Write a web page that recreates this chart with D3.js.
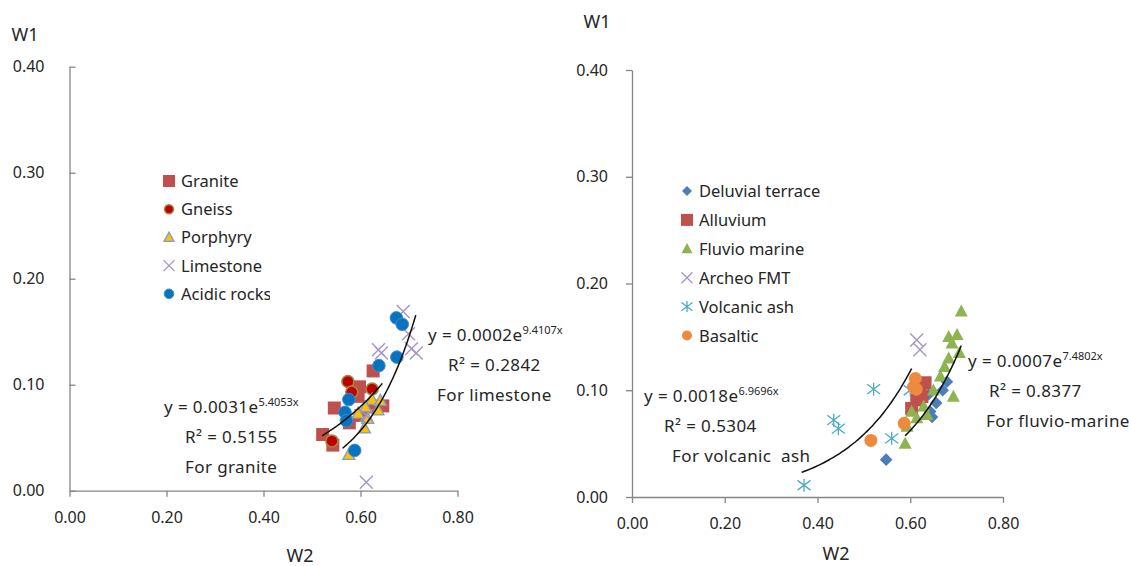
<!DOCTYPE html>
<html>
<head>
<meta charset="utf-8">
<script src="https://cdn.jsdelivr.net/npm/d3@7"></script>
<style>
    body { margin: 0; background: #fff; }
    svg { display: block; font-family: "Noto Sans", "DejaVu Sans", sans-serif; }
    .axis path, .axis line { stroke: #868686; stroke-width: 1.3px; }
    .axis text { font-size: 16px; fill: #262626; font-family: "Noto Sans", sans-serif; }
    .axis-title { font-size: 18px; fill: #262626; }
    .legend-text { font-size: 16.5px; fill: #262626; }
    .fit-text { font-size: 17px; letter-spacing: 0.4px; fill: #262626; white-space: pre; }
    .fit-line { fill: none; stroke: #111; stroke-width: 1.5px; }
</style>
</head>
<body>
<svg id="chart" width="1129" height="566"></svg>
<script>
// tick values (shared by both panels)
const xTicks = [0, 0.2, 0.4, 0.6, 0.8];
const yTicks = [0, 0.1, 0.2, 0.3, 0.4];

// left panel: parent rocks  [W2, W1]
const granite = [[0.626,0.113],[0.598,0.098],[0.546,0.078],[0.646,0.080],[0.577,0.064],
    [0.522,0.053],[0.543,0.043],[0.619,0.079],[0.601,0.071],[0.595,0.089]];
const gneiss = [[0.574,0.103],[0.582,0.093],[0.624,0.096],[0.541,0.047]];
const porphyry = [[0.624,0.086],[0.641,0.085],[0.610,0.079],[0.636,0.076],[0.595,0.073],
    [0.615,0.068],[0.608,0.059],[0.576,0.034]];
const limestone = [[0.688,0.169],[0.699,0.148],[0.715,0.130],[0.705,0.134],[0.637,0.133],
    [0.643,0.130],[0.612,0.008],[0.612,0.071]];
const acidic = [[0.674,0.163],[0.686,0.157],[0.675,0.126],[0.638,0.118],[0.576,0.086],
    [0.568,0.074],[0.571,0.066],[0.588,0.038]];

// right panel: deposits  [W2, W1]
const deluvial = [[0.548,0.035],[0.656,0.088],[0.679,0.108],[0.643,0.080],[0.639,0.096],
    [0.670,0.100],[0.647,0.075]];
const alluvium = [[0.632,0.107],[0.614,0.091],[0.603,0.083],[0.625,0.094],[0.621,0.100]];
const fluvio = [[0.710,0.174],[0.683,0.150],[0.701,0.152],[0.690,0.144],[0.706,0.135],
    [0.683,0.130],[0.674,0.122],[0.665,0.113],[0.693,0.094],[0.650,0.100],[0.629,0.085],
    [0.603,0.080],[0.636,0.077],[0.593,0.066],[0.589,0.050],[0.614,0.074]];
const archeo = [[0.614,0.147],[0.621,0.138]];
const volcanic = [[0.521,0.101],[0.435,0.072],[0.445,0.064],[0.560,0.055],[0.371,0.011],
    [0.600,0.100]];
const basaltic = [[0.515,0.053],[0.587,0.069],[0.611,0.111],[0.613,0.101],[0.607,0.103]];

// exponential trendlines: [a, b, xFrom, xTo], y = a * e^(b x)
const graniteFit = [0.0031, 5.4053, 0.521, 0.645];
const limestoneFit = [0.0002, 9.4107, 0.563, 0.714];
const volcanicFit = [0.0018, 6.9696, 0.366, 0.603];
const fluvioFit = [0.0007, 7.4802, 0.589, 0.710];
const graniteR2 = '0.5155', limestoneR2 = '0.2842', volcanicR2 = '0.5304', fluvioR2 = '0.8377';

const svg = d3.select('#chart');

function markerPath (shape, r) {
    switch (shape) {
        case 'square': return `M${-r},${-r}H${r}V${r}H${-r}Z`;
        case 'diamond': return `M0,${-r}L${r},0L0,${r}L${-r},0Z`;
        case 'triangle': return `M0,${-r * 1.05}L${r},${r * 0.8}L${-r},${r * 0.8}Z`;
        case 'x': return `M${-r},${-r}L${r},${r}M${-r},${r}L${r},${-r}`;
        case 'star': return `M${-r},${-r * 0.75}L${r},${r * 0.75}M${-r},${r * 0.75}L${r},${-r * 0.75}M0,${-r}V${r}`;
        default: return `M${r},0A${r},${r} 0 1,1 ${-r},0A${r},${r} 0 1,1 ${r},0Z`;
    }
}

function drawPanel (p) {
    const x = d3.scaleLinear().domain([0, 0.8]).range(p.xRange);
    const y = d3.scaleLinear().domain([0, 0.4]).range(p.yRange);
    const g = svg.append('g');

    // axes
    g.append('g')
        .attr('class', 'axis')
        .attr('transform', `translate(0,${p.yRange[0]})`)
        .call(d3.axisBottom(x).tickValues(xTicks).tickFormat(d3.format('.2f'))
            .tickSizeInner(6).tickSizeOuter(0).tickPadding(15));
    g.append('g')
        .attr('class', 'axis')
        .attr('transform', `translate(${p.xRange[0]},0)`)
        .call(d3.axisLeft(y).tickValues(yTicks).tickFormat(d3.format('.2f'))
            .tickSizeInner(p.yTick).tickSizeOuter(0).tickPadding(p.yPad));

    g.append('text').attr('class', 'axis-title')
        .attr('x', p.xTitle[0]).attr('y', p.xTitle[1])
        .attr('text-anchor', 'middle').text('W2');
    g.append('text').attr('class', 'axis-title')
        .attr('x', p.yTitle[0]).attr('y', p.yTitle[1])
        .attr('text-anchor', 'middle').text('W1');

    // points
    p.series.forEach(s => {
        g.append('g')
            .selectAll('path')
            .data(s.data)
            .enter()
            .append('path')
                .attr('transform', d => `translate(${x(d[0])},${y(d[1])})`)
                .attr('d', markerPath(s.shape, s.r))
                .attr('fill', s.line ? 'none' : s.fill)
                .attr('stroke', s.stroke)
                .attr('stroke-width', s.sw);
    });

    // trendlines
    const line = d3.line().x(d => x(d[0])).y(d => y(d[1])).curve(d3.curveBasis);
    p.fits.forEach(f => {
        const c = f.coef;
        const pts = d3.range(0, 41).map(i => {
            const xv = c[2] + (c[3] - c[2]) * i / 40;
            return [xv, c[0] * Math.exp(c[1] * xv)];
        });
        g.append('path').attr('class', 'fit-line').attr('d', line(pts));

        const t = g.append('text').attr('class', 'fit-text')
            .attr('x', f.pos[0]).attr('y', f.pos[1]);
        t.append('tspan').text(`y = ${c[0].toFixed(4)}e`);
        t.append('tspan').attr('dy', -7).style('font-size', '11px').style('letter-spacing', '0px')
            .text(`${c[1].toFixed(4)}x`);
        g.append('text').attr('class', 'fit-text')
            .attr('x', f.pos[0] + f.r2dx).attr('y', f.pos[1] + 30)
            .text(`R² = ${f.r2}`);
        g.append('text').attr('class', 'fit-text')
            .attr('x', f.pos[0] + f.labdx).attr('y', f.pos[1] + 60)
            .text(f.label);
    });

    // legend
    const lg = g.append('g').attr('clip-path', p.legendClip ? `url(#${p.legendClip})` : null);
    p.series.forEach((s, i) => {
        const ly = p.legend[1] + i * p.legend[2];
        lg.append('path')
            .attr('transform', `translate(${p.legend[0]},${ly})`)
            .attr('d', markerPath(s.shape, s.lr))
            .attr('fill', s.line ? 'none' : s.fill)
            .attr('stroke', s.stroke)
            .attr('stroke-width', s.line ? 1.3 : s.sw);
        lg.append('text').attr('class', 'legend-text')
            .attr('x', p.legend[0] + 12).attr('y', ly + 6)
            .text(s.name);
    });
}

svg.append('defs').append('clipPath').attr('id', 'legClipL')
    .append('rect').attr('x', 150).attr('y', 160).attr('width', 120).attr('height', 150);

const lavender = '#a694c9';

drawPanel({
    xRange: [69.5, 457.5], yRange: [490.7, 66.7],
    yTick: -6, yPad: 25,
    xTitle: [300, 562], yTitle: [25, 41],
    legend: [169, 181, 28.2], legendClip: 'legClipL',
    series: [
        {name: 'Granite', data: granite, shape: 'square', r: 6.5, lr: 6, fill: '#c0504d', stroke: '#c0504d', sw: 0},
        {name: 'Gneiss', data: gneiss, shape: 'circle', r: 6, lr: 4.5, fill: '#c00000', stroke: '#a08a3c', sw: 1.5},
        {name: 'Porphyry', data: porphyry, shape: 'triangle', r: 6, lr: 5, fill: '#ffc000', stroke: '#7f9fc9', sw: 1.3},
        {name: 'Limestone', data: limestone, shape: 'x', r: 6.5, lr: 5.5, fill: 'none', stroke: lavender, sw: 1.4, line: true},
        {name: 'Acidic rocks', data: acidic, shape: 'circle', r: 6.3, lr: 4.8, fill: '#0a72bf', stroke: '#3a8fd0', sw: 1}
    ],
    fits: [
        {coef: graniteFit, r2: graniteR2, label: 'For granite', pos: [164, 413], r2dx: 21, labdx: 21},
        {coef: limestoneFit, r2: limestoneR2, label: 'For limestone', pos: [428, 341], r2dx: 20, labdx: 9}
    ]
});

drawPanel({
    xRange: [632, 1003], yRange: [497, 70],
    yTick: 6, yPad: 18,
    xTitle: [836, 560], yTitle: [597, 28],
    legend: [687, 191, 28.9],
    series: [
        {name: 'Deluvial terrace', data: deluvial, shape: 'diamond', r: 6.3, lr: 5, fill: '#4a7ebb', stroke: '#4a7ebb', sw: 0},
        {name: 'Alluvium', data: alluvium, shape: 'square', r: 6.5, lr: 6, fill: '#c0504d', stroke: '#c0504d', sw: 0},
        {name: 'Fluvio marine', data: fluvio, shape: 'triangle', r: 6.5, lr: 5.5, fill: '#8eb44f', stroke: '#8eb44f', sw: 0},
        {name: 'Archeo FMT', data: archeo, shape: 'x', r: 6.5, lr: 5.5, fill: 'none', stroke: lavender, sw: 1.4, line: true},
        {name: 'Volcanic ash', data: volcanic, shape: 'star', r: 6.5, lr: 5.5, fill: 'none', stroke: '#4bacc6', sw: 1.3, line: true},
        {name: 'Basaltic', data: basaltic, shape: 'circle', r: 6.5, lr: 5, fill: '#ee8a3e', stroke: '#ee8a3e', sw: 0}
    ],
    fits: [
        {coef: volcanicFit, r2: volcanicR2, label: 'For volcanic  ash', pos: [644, 402], r2dx: 20, labdx: 28},
        {coef: fluvioFit, r2: fluvioR2, label: 'For fluvio-marine', pos: [968, 367], r2dx: 21, labdx: 18}
    ]
});
</script>
</body>
</html>
